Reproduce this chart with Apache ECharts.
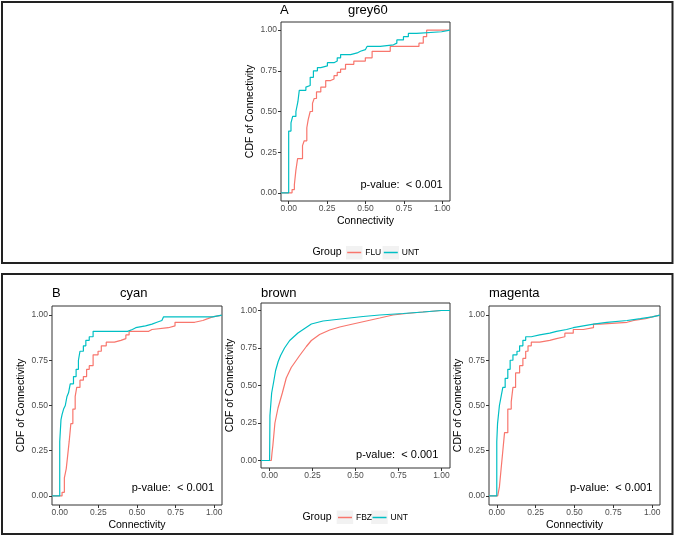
<!DOCTYPE html>
<html><head><meta charset="utf-8">
<script src="https://cdn.jsdelivr.net/npm/echarts@6/dist/echarts.min.js"></script>
<style>html,body{margin:0;padding:0;background:#fff}#c{width:675px;height:536px}</style>
</head><body><div id="c"></div>
<script>
// ---------- data ----------
const tickValues = [0, 0.25, 0.5, 0.75, 1];
const tickLabels = ['0.00', '0.25', '0.50', '0.75', '1.00'];
const panelTags = ['A', 'B'];
const panelTitles = ['grey60', 'cyan', 'brown', 'magenta'];
const groupsA = ['FLU', 'UNT'];
const groupsB = ['FBZ', 'UNT'];
const pLabel = 'p-value:  < 0.001';
const xName = 'Connectivity';
const yName = 'CDF of Connectivity';

// ECDF knots [connectivity, cumulative fraction]
const grey60FLU = [[-0.05,0],[0.022,0.02],[0.037,0.05],[0.047,0.14],[0.058,0.21],[0.090,0.29],[0.101,0.32],[0.118,0.40],[0.127,0.45],[0.140,0.50],[0.155,0.55],[0.166,0.58],[0.181,0.62],[0.209,0.65],[0.241,0.69],[0.273,0.70],[0.295,0.72],[0.316,0.74],[0.338,0.76],[0.370,0.79],[0.424,0.81],[0.499,0.83],[0.543,0.87],[0.661,0.90],[0.848,0.92],[0.876,0.96],[0.898,1.0],[1.05,1.0]];
const grey60UNT = [[-0.05,0],[0.0,0.38],[0.015,0.43],[0.026,0.47],[0.047,0.50],[0.060,0.56],[0.069,0.63],[0.112,0.65],[0.123,0.66],[0.140,0.71],[0.161,0.75],[0.187,0.77],[0.209,0.78],[0.252,0.80],[0.295,0.81],[0.316,0.83],[0.338,0.85],[0.403,0.86],[0.446,0.87],[0.467,0.88],[0.499,0.89],[0.510,0.90],[0.596,0.91],[0.682,0.92],[0.704,0.94],[0.747,0.96],[0.779,0.98],[0.833,0.99],[0.995,1.0],[1.05,1.0]];
const cyanFBZ = [[-0.05,0],[0.015,0.02],[0.030,0.10],[0.042,0.15],[0.051,0.22],[0.061,0.30],[0.072,0.40],[0.085,0.48],[0.100,0.55],[0.110,0.60],[0.131,0.64],[0.153,0.66],[0.174,0.70],[0.191,0.72],[0.216,0.78],[0.248,0.80],[0.269,0.83],[0.301,0.85],[0.354,0.86],[0.396,0.87],[0.428,0.89],[0.449,0.91],[0.576,0.92],[0.597,0.93],[0.703,0.94],[0.746,0.96],[0.873,0.97],[0.926,0.98],[0.958,0.99],[0.989,1.0],[1.05,1.0]];
const cyanUNT = [[-0.05,0],[0.0,0.30],[0.008,0.42],[0.015,0.45],[0.025,0.48],[0.036,0.50],[0.047,0.55],[0.057,0.57],[0.068,0.62],[0.089,0.66],[0.106,0.70],[0.121,0.75],[0.131,0.80],[0.153,0.83],[0.169,0.86],[0.191,0.88],[0.216,0.91],[0.439,0.92],[0.470,0.93],[0.492,0.94],[0.555,0.95],[0.597,0.96],[0.629,0.97],[0.661,0.98],[0.672,0.99],[0.989,1.0],[1.05,1.0]];
const brownFBZ = [[-0.05,0],[0.010,0],[0.014,0.05],[0.019,0.10],[0.031,0.25],[0.049,0.35],[0.074,0.45],[0.097,0.55],[0.126,0.62],[0.175,0.70],[0.214,0.76],[0.243,0.80],[0.291,0.84],[0.350,0.87],[0.408,0.89],[0.485,0.91],[0.563,0.93],[0.641,0.95],[0.718,0.97],[0.796,0.98],[0.893,0.99],[1.0,1.0],[1.05,1.0]];
const brownUNT = [[-0.05,0],[0.0,0],[0.002,0.30],[0.012,0.45],[0.023,0.52],[0.035,0.60],[0.050,0.66],[0.064,0.70],[0.087,0.75],[0.117,0.80],[0.165,0.85],[0.204,0.88],[0.243,0.91],[0.311,0.93],[0.388,0.94],[0.466,0.95],[0.544,0.96],[0.641,0.97],[0.777,0.98],[0.893,0.99],[1.0,1.0],[1.05,1.0]];
const magentaFBZ = [[-0.05,0],[0.006,0.01],[0.017,0.05],[0.028,0.15],[0.039,0.25],[0.050,0.35],[0.071,0.48],[0.093,0.52],[0.104,0.60],[0.121,0.68],[0.147,0.72],[0.168,0.76],[0.186,0.80],[0.201,0.83],[0.222,0.85],[0.276,0.86],[0.341,0.87],[0.384,0.88],[0.438,0.90],[0.492,0.92],[0.557,0.93],[0.622,0.95],[0.665,0.96],[0.838,0.97],[0.881,0.98],[0.957,0.99],[1.0,1.0],[1.05,1.0]];
const magentaUNT = [[-0.05,0],[0.0,0.30],[0.005,0.40],[0.011,0.45],[0.017,0.50],[0.028,0.55],[0.039,0.60],[0.054,0.65],[0.071,0.70],[0.086,0.75],[0.104,0.78],[0.130,0.80],[0.147,0.83],[0.168,0.86],[0.186,0.88],[0.222,0.89],[0.276,0.90],[0.341,0.91],[0.384,0.92],[0.449,0.93],[0.492,0.94],[0.557,0.95],[0.622,0.96],[0.708,0.97],[0.838,0.975],[0.881,0.98],[0.924,0.99],[1.0,1.0],[1.05,1.0]];

// ---------- layout / style ----------
const FONT = "'Liberation Sans', Arial, Helvetica, sans-serif";
const RED = '#F8766D', CYAN = '#00BFC4';
const grids = [
  {left: 281, top: 22, width: 169, height: 179},
  {left: 52, top: 306, width: 170, height: 199},
  {left: 261, top: 303, width: 189, height: 165},
  {left: 489, top: 306, width: 171, height: 199}
];
const panels = [
  {a: grey60FLU, b: grey60UNT, na: groupsA[0], nb: groupsA[1], step: 'end', xname: true},
  {a: cyanFBZ, b: cyanUNT, na: groupsB[0], nb: groupsB[1], step: 'end', xname: true},
  {a: brownFBZ, b: brownUNT, na: groupsB[0], nb: groupsB[1], step: false, xname: false},
  {a: magentaFBZ, b: magentaUNT, na: groupsB[0], nb: groupsB[1], step: 'end', xname: true}
];
const fmt = v => { const i = tickValues.findIndex(t => Math.abs(t - v) < 1e-9); return i >= 0 ? tickLabels[i] : ''; };

const xAxes = [], yAxes = [], series = [];
panels.forEach((p, i) => {
  xAxes.push({
    type: 'value', gridIndex: i, min: -0.05, max: 1.05, position: 'bottom',
    axisLine: {show: false, onZero: false}, splitLine: {show: false},
    axisTick: {show: true, inside: false, customValues: tickValues, length: 3, lineStyle: {color: '#333', width: 1}},
    axisLabel: {customValues: tickValues, formatter: fmt, color: '#4D4D4D', fontSize: 8.5, fontFamily: FONT, margin: 3},
    name: p.xname ? xName : '', nameLocation: 'middle', nameGap: 15,
    nameTextStyle: {color: '#000', fontSize: 10.5, fontFamily: FONT, verticalAlign: 'top'}
  });
  yAxes.push({
    type: 'value', gridIndex: i, min: -0.05, max: 1.05, position: 'left',
    axisLine: {show: false, onZero: false}, splitLine: {show: false},
    axisTick: {show: true, inside: false, customValues: tickValues, length: 3, lineStyle: {color: '#333', width: 1}},
    axisLabel: {customValues: tickValues, formatter: fmt, color: '#4D4D4D', fontSize: 8.5, fontFamily: FONT, margin: 4},
    name: yName, nameLocation: 'middle', nameGap: 25,
    nameTextStyle: {color: '#000', fontSize: 10.5, fontFamily: FONT}
  });
  [[p.a, p.na, RED], [p.b, p.nb, CYAN]].forEach(([d, n, c]) => {
    series.push({
      type: 'line', name: n, xAxisIndex: i, yAxisIndex: i, data: d,
      step: p.step, showSymbol: false, symbol: 'none', clip: true,
      lineStyle: {color: c, width: 1.2}, itemStyle: {color: c}, animation: false
    });
  });
});

const txt = (text, x, y, fs, align) => ({
  type: 'text', z: 10, style: {text, x, y, fontSize: fs, fontFamily: FONT, fill: '#000', align, verticalAlign: 'middle'}
});
const keyRect = (x, y) => ({type: 'rect', z: 1, shape: {x, y, width: 16.5, height: 13.5}, style: {fill: '#F2F2F2'}});

const graphic = [
  {type: 'rect', z: 0, shape: {x: 2, y: 2, width: 670.5, height: 261}, style: {fill: 'none', stroke: '#222', lineWidth: 2}},
  {type: 'rect', z: 0, shape: {x: 2, y: 274, width: 670.5, height: 260}, style: {fill: 'none', stroke: '#222', lineWidth: 2}},
  txt(panelTags[0], 280, 10.5, 13, 'left'),
  txt(panelTitles[0], 348, 10.5, 13, 'left'),
  txt(panelTags[1], 52, 293, 13, 'left'),
  txt(panelTitles[1], 120, 293, 13, 'left'),
  txt(panelTitles[2], 261, 293, 13, 'left'),
  txt(panelTitles[3], 489, 293, 13, 'left'),
  txt(pLabel, 442.7, 185, 11, 'right'),
  txt(pLabel, 214, 488.3, 11, 'right'),
  txt(pLabel, 438.3, 454.7, 11, 'right'),
  txt(pLabel, 652.3, 488.3, 11, 'right'),
  txt('Group', 327, 252.5, 10.5, 'center'),
  txt('Group', 317, 517.5, 10.5, 'center'),
  keyRect(346, 246), keyRect(382.5, 246),
  keyRect(336.7, 510.5), keyRect(371.2, 510.5)
];

const legItem = (name, left, top) => ({
  data: [name], left, top, padding: 0, itemWidth: 14, itemHeight: 1.5, icon: 'rect', itemGap: 0,
  textStyle: {fontSize: 8.5, fontFamily: FONT, color: '#000', lineHeight: 10, padding: [0, 0, 0, -1]}, z: 5
});

const chart = echarts.init(document.getElementById('c'), null, {renderer: 'canvas'});
chart.setOption({
  backgroundColor: '#fff',
  animation: false,
  grid: grids.map(g => Object.assign({show: true, borderColor: '#333', borderWidth: 1, backgroundColor: 'transparent', containLabel: false}, g)),
  xAxis: xAxes,
  yAxis: yAxes,
  series,
  legend: [
    legItem(groupsA[0], 347.2, 247.5), legItem(groupsA[1], 383.8, 247.5),
    legItem(groupsB[0], 338, 512.5), legItem(groupsB[1], 372.5, 512.5)
  ],
  graphic
});
</script></body></html>
